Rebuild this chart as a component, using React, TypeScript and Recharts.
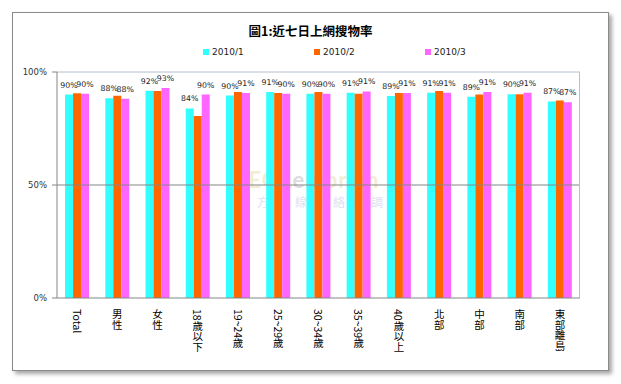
import React from "react";
import {Bar, BarChart, LabelList, ReferenceLine, XAxis, YAxis} from "recharts";

const categories = ["Total", "男性", "女性", "18歲以下", "19~24歲", "25~29歲", "30~34歲", "35~39歲", "40歲以上", "北部", "中部", "南部", "東部離島"];
const jan = [90, 88.4, 91.7, 83.9, 89.6, 91.2, 90.4, 90.8, 89.4, 90.8, 89.1, 90.1, 87];
const feb = [90.6, 89.5, 91.6, 80.5, 91.2, 90.7, 91.2, 90.4, 90.7, 91.6, 90, 90.1, 87.4];
const mar = [90.4, 88.2, 92.9, 90, 90.7, 90.4, 90.4, 91.4, 90.7, 90.8, 91.2, 90.8, 86.6];
const seriesNames = ["2010/1", "2010/2", "2010/3"];
const seriesColors = ["#33ffff", "#ff6600", "#ff66ff"];
const yTicks = [0, 50, 100];

const data = categories.map((name, i) => ({name, s1: jan[i], s2: feb[i], s3: mar[i]}));

const XTick = (props: any) => {
    const {x, y, payload} = props;
    return <text x={x} y={y + 3} writingMode="vertical-rl" style={{writingMode: "vertical-rl"}}
                 fontSize={10.5} fontFamily="Noto Sans CJK TC" fill="#000">{payload.value}</text>;
};

const pct = (v: any) => Math.round(Number(v)) + "%";

export default function App() {
    return <div style={{position: "absolute", left: 0, top: 0, width: 621, height: 384, background: "#fff", fontFamily: "DejaVu Sans"}}>
        <div style={{position: "absolute", left: 12, top: 12, width: 595, height: 357, border: "1px solid #8a8a8a",
            boxShadow: "3px 3px 4px rgba(0,0,0,0.35)", background: "#fff"}}/>
        <div style={{position: "absolute", left: 0, top: 21, width: 621, textAlign: "center", fontFamily: "Noto Sans CJK TC",
            fontWeight: 700, fontSize: 12.5, color: "#000"}}>圖1:近七日上網搜物率
        </div>
        {seriesNames.map((n, i) => <div key={n} style={{position: "absolute", left: 203 + i * 111, top: 47, fontSize: 9, color: "#222", whiteSpace: "nowrap"}}>
            <span style={{display: "inline-block", width: 6, height: 6, background: seriesColors[i], marginRight: 3}}/>{n}
        </div>)}
        <div style={{position: "absolute", left: 214, top: 166, width: 200, textAlign: "center", opacity: 0.22, pointerEvents: "none", whiteSpace: "nowrap"}}>
            <div style={{fontSize: 22, fontWeight: 700, color: "#c8b040", fontFamily: "Lato", letterSpacing: 1}}>EOL<span style={{color: "#666"}}>em</span>brain</div>
            <div style={{fontSize: 12, color: "#7070c0", fontFamily: "Noto Sans CJK TC", letterSpacing: 7}}>東方快線網絡市調</div>
        </div>
        <div style={{position: "absolute", left: 0, top: 0}}>
            <BarChart width={621} height={384} data={data} margin={{top: 72, right: 41, left: 0, bottom: 16}}
                      barCategoryGap="20%" barGap={0}>
                <XAxis dataKey="name" height={70} interval={0} tick={<XTick/>} tickLine={false} axisLine={{stroke: "#868686"}}/>
                <YAxis width={57} domain={[0, 100]} ticks={yTicks} tickFormatter={(v) => v + "%"} tickSize={5} tickMargin={5}
                       axisLine={{stroke: "#868686"}} tickLine={{stroke: "#868686"}}
                       tick={{fontSize: 8.5, fill: "#333", fontFamily: "DejaVu Sans"}}/>
                <ReferenceLine y={50} stroke="#868686"/>
                <ReferenceLine y={100} stroke="#b4bfd0"/>
                <Bar dataKey="s1" name={seriesNames[0]} fill={seriesColors[0]} isAnimationActive={false}>
                    <LabelList dataKey="s1" position="top" offset={7} formatter={pct} fontSize={7.8} fill="#222" fontFamily="DejaVu Sans"/>
                </Bar>
                <Bar dataKey="s2" name={seriesNames[1]} fill={seriesColors[1]} isAnimationActive={false}/>
                <Bar dataKey="s3" name={seriesNames[2]} fill={seriesColors[2]} isAnimationActive={false}>
                    <LabelList dataKey="s3" position="top" offset={7} formatter={pct} fontSize={7.8} fill="#222" fontFamily="DejaVu Sans"/>
                </Bar>
            </BarChart>
        </div>
        <div style={{position: "absolute", left: 579, top: 72, width: 1, height: 226, background: "#b4bfd0"}}/>
    </div>;
}
